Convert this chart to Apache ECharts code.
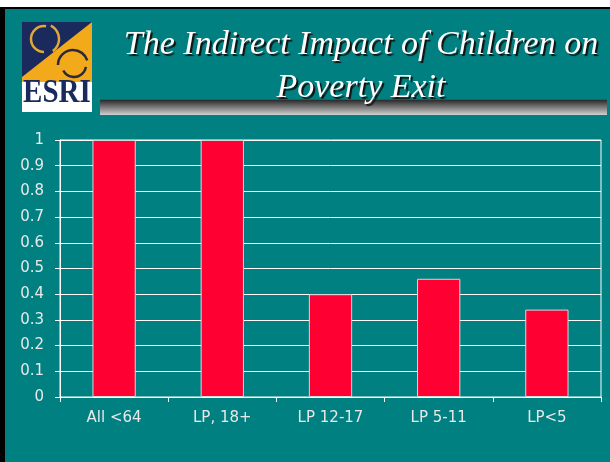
<!DOCTYPE html>
<html>
<head>
<meta charset="utf-8">
<script src="https://cdn.jsdelivr.net/npm/echarts@6/dist/echarts.min.js"></script>
<style>
html,body{margin:0;padding:0;background:#fff;}
#c{width:610px;height:462px;}
</style>
</head>
<body>
<div id="c"></div>
<script>
const categories = ["All <64", "LP, 18+", "LP 12-17", "LP 5-11", "LP<5"];
const values = [1, 1, 0.4, 0.46, 0.34];
const titleLines = ["The Indirect Impact of Children on", "Poverty Exit"];

const chart = echarts.init(document.getElementById('c'), null, {renderer: 'canvas'});
const teal = '#008080';
const navy = '#1b2a5c';
const gold = '#f2aa1a';
const labelFont = '"DejaVu Sans", Verdana, sans-serif';
const titleFont = 'italic 34px "Liberation Serif", "Times New Roman", serif';

chart.setOption({
  backgroundColor: teal,
  animation: false,
  grid: {left: 60, right: 9, top: 140, bottom: 65, show: true, borderColor: '#ffffff', borderWidth: 1, backgroundColor: 'transparent'},
  xAxis: {
    type: 'category',
    data: categories,
    axisLine: {lineStyle: {color: '#ffffff', width: 1}},
    axisTick: {show: true, length: 5, lineStyle: {color: '#ffffff'}},
    axisLabel: {color: '#e8e8e8', fontFamily: labelFont, fontSize: 15, margin: 14},
    splitLine: {show: false}
  },
  yAxis: {
    type: 'value',
    min: 0, max: 1, interval: 0.1,
    axisLine: {show: true, lineStyle: {color: '#ffffff', width: 1}},
    axisTick: {show: true, length: 5, lineStyle: {color: '#ffffff'}},
    axisLabel: {color: '#e8e8e8', fontFamily: labelFont, fontSize: 15, margin: 16,
      formatter: v => String(Math.round(v * 10) / 10)},
    splitLine: {show: true, lineStyle: {color: '#ffffff', width: 1}}
  },
  series: [{
    type: 'bar',
    data: values,
    barWidth: '40%',
    itemStyle: {color: '#ff0033', borderColor: '#d8d8d8', borderWidth: 1}
  }],
  graphic: [
    {type: 'rect', shape: {x: 0, y: 0, width: 610, height: 7}, style: {fill: '#ffffff'}, z: 100},
    {type: 'rect', shape: {x: 0, y: 7, width: 610, height: 2}, style: {fill: '#000000'}, z: 100},
    {type: 'rect', shape: {x: 0, y: 7, width: 5, height: 455}, style: {fill: '#000000'}, z: 100},
    // title bar
    {type: 'rect', shape: {x: 100, y: 99, width: 507, height: 1}, style: {fill: '#a02840'}, z: 100},
    {type: 'rect', shape: {x: 100, y: 100, width: 507, height: 15},
      style: {fill: new echarts.graphic.LinearGradient(0, 0, 0, 1, [
        {offset: 0, color: '#2a2a2a'}, {offset: 1, color: '#d0d0d0'}])}, z: 100},
    // title text
    {type: 'text', x: 361, y: 62, z: 100, style: {
      text: titleLines[0], fill: '#ffffff', font: titleFont,
      textAlign: 'center', textVerticalAlign: 'bottom',
      textShadowColor: '#111', textShadowOffsetX: 2, textShadowOffsetY: 2, textShadowBlur: 1}},
    {type: 'text', x: 361, y: 105, z: 100, style: {
      text: titleLines[1], fill: '#ffffff', font: titleFont,
      textAlign: 'center', textVerticalAlign: 'bottom',
      textShadowColor: '#111', textShadowOffsetX: 2, textShadowOffsetY: 2, textShadowBlur: 1}},
    // logo
    {type: 'rect', shape: {x: 22, y: 22, width: 70, height: 60}, style: {fill: gold}, z: 100},
    {type: 'polygon', shape: {points: [[22, 22], [92, 22], [22, 77]]}, style: {fill: navy}, z: 101},
    {type: 'arc', shape: {cx: 44, cy: 39, r: 13, startAngle: 0.5 * Math.PI, endAngle: 1.55 * Math.PI}, style: {stroke: '#e0a838', lineWidth: 2.5, fill: null}, z: 102},
    {type: 'arc', shape: {cx: 44, cy: 39, r: 15, startAngle: -0.35 * Math.PI, endAngle: 0.3 * Math.PI}, style: {stroke: '#e0a838', lineWidth: 2.5, fill: null}, z: 102},
    {type: 'arc', shape: {cx: 73, cy: 65, r: 15, startAngle: 1.0 * Math.PI, endAngle: 1.9 * Math.PI}, style: {stroke: '#2a2a3a', lineWidth: 2.5, fill: null}, z: 102},
    {type: 'arc', shape: {cx: 74, cy: 65, r: 12, startAngle: 0.05 * Math.PI, endAngle: 0.85 * Math.PI}, style: {stroke: '#2a2a3a', lineWidth: 2.5, fill: null}, z: 102},
    {type: 'rect', shape: {x: 22, y: 82, width: 70, height: 30}, style: {fill: '#ffffff'}, z: 100},
    {type: 'text', x: 57, y: 110, scaleX: 0.88, z: 102, style: {
      text: 'ESRI', fill: navy, font: 'bold 33px "Liberation Serif", "Times New Roman", serif',
      textAlign: 'center', textVerticalAlign: 'bottom'}}
  ]
});
</script>
</body>
</html>
